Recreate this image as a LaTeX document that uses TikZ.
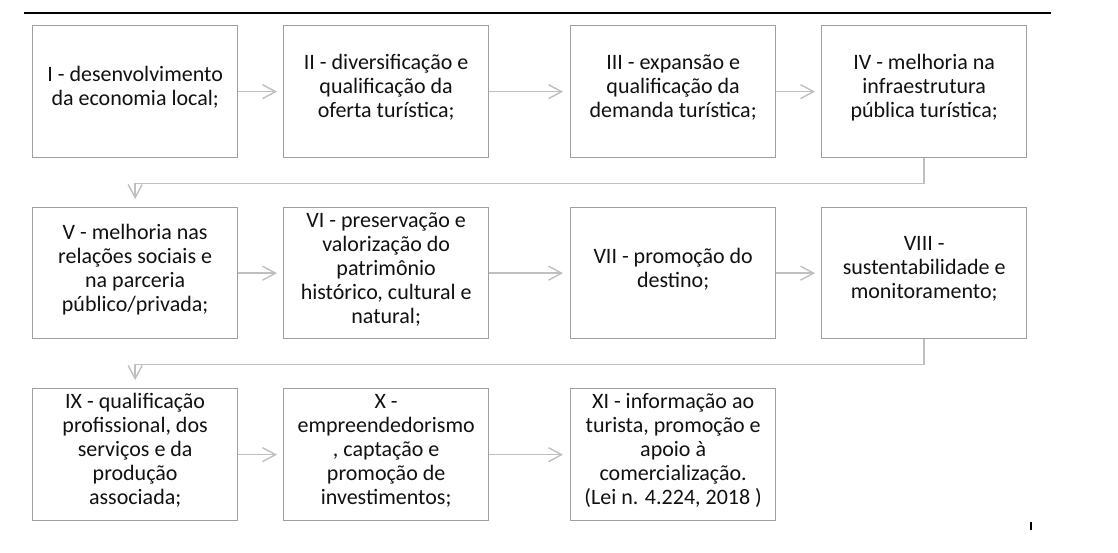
\documentclass[tikz,border=0pt]{standalone}
\usepackage{fontspec}
\setmainfont{Carlito}
\usetikzlibrary{arrows.meta,calc}
\definecolor{boxgray}{HTML}{A0A0A0}
\definecolor{conngray}{HTML}{BFBFBF}
\definecolor{txtc}{HTML}{111111}
\begin{document}
\begin{tikzpicture}[x=1pt,y=-1pt,
  box/.style={draw=boxgray,line width=1.3pt,minimum width=205pt,minimum height=132pt,anchor=north west,inner sep=0pt},
  lbl/.style={align=center,text=txtc,font=\fontsize{22}{24}\selectfont,yshift=4pt},
  conn/.style={draw=conngray,line width=1.4pt,-{Straight Barb[length=13pt,width=14pt]}},
]
\useasboundingbox (0,0) rectangle (1118,552);
\draw[line width=1.8pt] (24,13) -- (1051,13);
% row 1
\node[box,label={[lbl]center:{I - desenvolvimento\\da economia local;}}] (b1) at (32,25) {};
\node[box,label={[lbl]center:{II - diversificação e\\qualificação da\\oferta turística;}}] (b2) at (283,25) {};
\node[box,label={[lbl]center:{III - expansão e\\qualificação da\\demanda turística;}}] (b3) at (570,25) {};
\node[box,label={[lbl]center:{IV - melhoria na\\infraestrutura\\pública turística;}}] (b4) at (821,25) {};
% row 2
\node[box,minimum height=131pt,label={[lbl]center:{V - melhoria nas\\relações sociais e\\na parceria\\público/privada;}}] (b5) at (32,207) {};
\node[box,minimum height=131pt,label={[lbl]center:{VI - preservação e\\valorização do\\patrimônio\\histórico, cultural e\\natural;}}] (b6) at (283,207) {};
\node[box,minimum height=131pt,label={[lbl]center:{VII - promoção do\\destino;}}] (b7) at (570,207) {};
\node[box,minimum height=131pt,label={[lbl]center:{VIII -\\sustentabilidade e\\monitoramento;}}] (b8) at (821,207) {};
% row 3
\node[box,label={[lbl]center:{IX - qualificação\\profissional, dos\\serviços e da\\produção\\associada;}}] (b9) at (32,388) {};
\node[box,label={[lbl]center:{X -\\empreendedorismo\\, captação e\\promoção de\\investimentos;}}] (b10) at (283,388) {};
\node[box,label={[lbl]center:{XI - informação ao\\turista, promoção e\\apoio à\\comercialização.\\(Lei n. 4.224, 2018 )}}] (b11) at (570,388) {};
% connectors
\draw[conn,shorten >=6pt] (b1.east) -- (b2.west);
\draw[conn,shorten >=7pt] (b2.east) -- (b3.west);
\draw[conn,shorten >=6pt] (b3.east) -- (b4.west);
\draw[conn,shorten >=8pt] (b4.south) -- ++(0,25) -| (b5.north);
\draw[conn,shorten >=6pt] (b5.east) -- (b6.west);
\draw[conn,shorten >=7pt] (b6.east) -- (b7.west);
\draw[conn,shorten >=6pt] (b7.east) -- (b8.west);
\draw[conn,shorten >=8pt] (b8.south) -- ++(0,25) -| (b9.north);
\draw[conn,shorten >=6pt] (b9.east) -- (b10.west);
\draw[conn,shorten >=7pt] (b10.east) -- (b11.west);
\draw[line width=1.2pt] (1031,522) -- (1031,530);
\end{tikzpicture}
\end{document}
